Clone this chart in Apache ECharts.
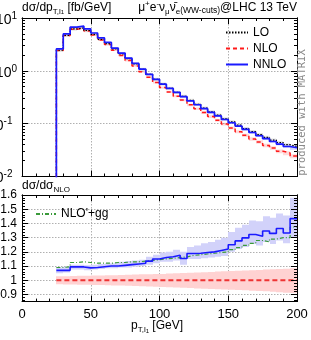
<!DOCTYPE html>
<html><head><meta charset="utf-8">
<script src="https://cdn.jsdelivr.net/npm/echarts@6/dist/echarts.min.js"></script>
<style>html,body{margin:0;padding:0;background:#fff}#c{width:311px;height:340px}</style>
</head><body><div id="c"></div>
<script>
// ---- data (bin lower edges, 5 GeV bins) ----
const binLo = [25,30,35,40,45,50,55,60,65,70,75,80,85,90,95,100,105,110,115,120,125,130,135,140,145,150,155,160,165,170,175,180,185,190,195];
const binWidth = 5;
const loVals = [2.45,4.7,6.2,6.5,5.8,4.9,3.95,3.28,2.6,2.1,1.7,1.36,1.07,0.855,0.69,0.56,0.468,0.393,0.33,0.276,0.233,0.198,0.168,0.145,0.124,0.108,0.094,0.081,0.071,0.062,0.055,0.049,0.044,0.040,0.037];
const nloVals = [2.43,4.67,6.12,6.40,5.70,4.77,3.84,3.14,2.45,1.96,1.57,1.24,0.964,0.758,0.60,0.483,0.399,0.332,0.282,0.227,0.192,0.162,0.136,0.116,0.0984,0.0832,0.0705,0.0601,0.0514,0.0450,0.0386,0.0346,0.0301,0.0278,0.0244];
const nnloVals = [2.6,5.0,6.7,7.0,6.2,5.2,4.2,3.45,2.7,2.17,1.74,1.38,1.08,0.86,0.69,0.56,0.465,0.39,0.325,0.27,0.228,0.193,0.163,0.14,0.12,0.104,0.09,0.078,0.068,0.059,0.052,0.046,0.041,0.037,0.035];
const loBandLo = [0.93,0.93,0.93,0.93,0.93,0.93,0.93,0.93,0.93,0.93,0.93,0.93,0.93,0.93,0.93,0.93,0.93,0.93,0.93,0.93,0.93,0.93,0.93,0.93,0.93,0.93,0.93,0.93,0.93,0.93,0.93,0.93,0.93,0.93,0.93];
const loBandHi = [1.07,1.07,1.07,1.07,1.07,1.07,1.07,1.07,1.07,1.07,1.07,1.07,1.07,1.07,1.07,1.07,1.07,1.07,1.07,1.07,1.07,1.07,1.07,1.07,1.07,1.07,1.07,1.07,1.07,1.07,1.07,1.07,1.07,1.07,1.07];
// ratios to NLO (lower panel)
const nnloRatio = [1.07,1.07,1.094,1.094,1.087,1.09,1.095,1.10,1.10,1.105,1.11,1.115,1.12,1.135,1.15,1.16,1.165,1.176,1.153,1.188,1.19,1.195,1.2,1.21,1.22,1.25,1.277,1.298,1.322,1.31,1.347,1.33,1.364,1.333,1.434];
const ggRatio = [1.09,1.095,1.125,1.13,1.125,1.12,1.12,1.12,1.125,1.125,1.13,1.13,1.135,1.14,1.145,1.15,1.155,1.16,1.165,1.175,1.18,1.185,1.19,1.195,1.2,1.215,1.23,1.245,1.26,1.28,1.27,1.29,1.3,1.3,1.375];
const nloBandLo = [0.972,0.971,0.970,0.969,0.968,0.967,0.966,0.965,0.964,0.963,0.961,0.960,0.958,0.957,0.955,0.953,0.951,0.949,0.947,0.945,0.943,0.941,0.939,0.937,0.935,0.933,0.931,0.929,0.927,0.924,0.922,0.919,0.916,0.913,0.910];
const nloBandHi = [1.028,1.029,1.030,1.031,1.032,1.033,1.034,1.035,1.036,1.038,1.039,1.040,1.042,1.043,1.044,1.045,1.047,1.049,1.051,1.053,1.055,1.057,1.059,1.061,1.063,1.065,1.067,1.069,1.071,1.073,1.075,1.077,1.079,1.082,1.085];
const nnloBandLo = [1.05,1.055,1.075,1.075,1.07,1.075,1.08,1.085,1.085,1.09,1.09,1.095,1.10,1.11,1.12,1.13,1.13,1.14,1.11,1.15,1.15,1.155,1.16,1.165,1.17,1.2,1.22,1.235,1.255,1.245,1.27,1.255,1.28,1.26,1.305];
const nnloBandHi = [1.09,1.095,1.11,1.11,1.105,1.11,1.115,1.12,1.12,1.13,1.135,1.14,1.145,1.165,1.18,1.195,1.2,1.215,1.2,1.235,1.245,1.26,1.27,1.285,1.3,1.34,1.37,1.39,1.42,1.415,1.45,1.44,1.47,1.455,1.58];
// tick values
const xMajor = [0,50,100,150,200];
const logMajor = [0.01,0.1,1,10];
const ratioMajor = [0.9,1,1.1,1.2,1.3,1.4,1.5,1.6];

const logMinor = [];
[0.01,0.1,1].forEach(d => { for (let k = 2; k <= 9; k++) logMinor.push(+(d*k).toPrecision(3)); });
const ratioMinor = [];
for (let i = 86; i <= 160; i += 2) if (i % 10 !== 0) ratioMinor.push(i/100);

const FONT = "'Liberation Sans', Arial, sans-serif";
const chart = echarts.init(document.getElementById('c'), null, {renderer:'canvas'});

function xAx(grid, pos, showLabel, showSplit, z) {
  return {type:'value', gridIndex:grid, position:pos, min:0, max:200, interval:50, z:z,
    axisLine:{show:true, onZero:false, lineStyle:{color:'#000', width:1}},
    axisTick:{show:true, inside:true, length:6, lineStyle:{color:'#000'}},
    minorTick:{show:true, splitNumber:5, length:3, lineStyle:{color:'#000'}},
    axisLabel:{show:showLabel, fontSize:13, fontFamily:FONT, color:'#000', margin:6},
    splitLine:{show:showSplit, lineStyle:{color:'#b0b0b0', type:[1.5,1.5]}},
    minorSplitLine:{show:false}};
}
function yAx(grid, pos, type, min, max, vals, len, showLabel, showSplit, z, fmt, pad) {
  const o = {type:type, gridIndex:grid, position:pos, min:min, max:max, z:z,
    axisLine:{show:true, onZero:false, lineStyle:{color:'#000', width:1}},
    axisTick:{show:true, inside:true, length:len, customValues:vals, lineStyle:{color:'#000'}},
    axisLabel:{show:showLabel, customValues:vals, fontSize:12, fontFamily:FONT, color:'#000', margin:5, formatter:fmt, padding:pad||0,
      rich:{b:{fontSize:14, fontFamily:FONT, color:'#000', lineHeight:18},
            e:{fontSize:10, fontFamily:FONT, color:'#000', verticalAlign:'top', lineHeight:10},
            sp:{width:4.5, lineHeight:8}}},
    splitLine:{show:showSplit, lineStyle:{color:'#b0b0b0', type:[1.5,1.5]}},
    minorTick:{show:false}, minorSplitLine:{show:false}};
  if (type === 'log') o.logBase = 10;
  return o;
}
const logFmt = v => { const e = Math.round(Math.log10(v)); return '{b|10}{e|' + e + '}' + (e < 0 ? '{sp| }' : ''); };
const ratFmt = v => String(+(+v).toFixed(1));

const xAxis = [
  xAx(0,'bottom',false,true,0),
  xAx(0,'top',false,false,10),
  xAx(1,'bottom',true,true,0),
  xAx(1,'top',false,false,10)
];
const yAxis = [
  yAx(0,'left','log',0.01,10,logMajor,6,true,true,0,logFmt,[4,0,0,0]),
  yAx(0,'left','log',0.01,10,logMinor,3,false,false,10),
  yAx(0,'right','log',0.01,10,logMajor,6,false,false,10),
  yAx(0,'right','log',0.01,10,logMinor,3,false,false,10),
  yAx(1,'left','value',0.85,1.6,ratioMajor,6,true,true,0,ratFmt),
  yAx(1,'left','value',0.85,1.6,ratioMinor,3,false,false,10),
  yAx(1,'right','value',0.85,1.6,ratioMajor,6,false,false,10),
  yAx(1,'right','value',0.85,1.6,ratioMinor,3,false,false,10)
];

function band(name, xi, yi, lo, hi, color, z) {
  return {name:name, type:'custom', xAxisIndex:xi, yAxisIndex:yi, z:z, silent:true, clip:true,
    data: binLo.map((x,i) => [x, lo[i], hi[i]]),
    encode:{x:0, y:[1,2]},
    renderItem:(params, api) => {
      const x0 = api.value(0);
      const a = api.coord([x0, api.value(2)]);
      const b = api.coord([x0 + binWidth, api.value(1)]);
      const X0 = Math.round(a[0]), X1 = Math.round(b[0]);
      return {type:'rect', shape:{x:X0, y:a[1], width:X1-X0, height:b[1]-a[1]}, style:{fill:color}};
    }};
}
function step(name, xi, yi, vals, color, width, dash, drop, z) {
  const d = [];
  if (drop) d.push([binLo[0], 1e-4]);
  vals.forEach((v,i) => d.push([binLo[i], v]));
  d.push([binLo[binLo.length-1] + binWidth, vals[vals.length-1]]);
  return {name:name, type:'line', step:'end', xAxisIndex:xi, yAxisIndex:yi, data:d, symbol:'none', showSymbol:false,
    lineStyle:{color:color, width:width, type:dash}, itemStyle:{color:color}, z:z, silent:true, clip:true};
}
const mul = (a,b) => a.map((v,i) => v*b[i]);
const nloRatio = nloVals.map((v,i) => v / nloVals[i]);

const series = [
  band('LOband',0,0,mul(loVals,loBandLo),mul(loVals,loBandHi),'rgba(0,0,0,0.10)',1),
  band('NLOband',0,0,mul(nloVals,nloBandLo),mul(nloVals,nloBandHi),'rgba(255,0,0,0.15)',1),
  band('NNLOband',0,0,mul(nloVals,nnloBandLo),mul(nloVals,nnloBandHi),'rgba(60,60,255,0.2)',1),
  step('LO',0,0,loVals,'#000',1.2,[1.5,1.5],true,4),
  step('NLO',0,0,nloVals,'#ff1a1a',1.5,[4,3],true,3),
  step('NNLO',0,0,nnloVals,'#1a1aff',1.7,'solid',true,5),
  band('NLOrband',2,4,nloBandLo,nloBandHi,'#ffd2d2',1),
  band('NNLOrband',2,4,nnloBandLo,nnloBandHi,'#d2d2fa',1),
  step('NLO/NLO',2,4,nloRatio,'#ee3333',2,[5,3],false,3),
  step("NLO'+gg",2,4,ggRatio,'#3a9a3a',1.2,[4,2,1,2],false,4),
  step('NNLO/NLO',2,4,nnloRatio,'#1a1aff',1.6,'solid',false,5)
];

const subRich = {
  s:{fontSize:8, fontFamily:FONT, fill:'#000', verticalAlign:'bottom', lineHeight:8},
  ss:{fontSize:6, fontFamily:FONT, fill:'#000', verticalAlign:'bottom', lineHeight:3},
  p:{fontSize:8, fontFamily:FONT, fill:'#000', verticalAlign:'top', lineHeight:8},
  w:{fontSize:8.5, fontFamily:FONT, fill:'#000', verticalAlign:'bottom', lineHeight:10}
};
function txt(x, y, text, align, extra) {
  return Object.assign({type:'text', x:x, y:y, silent:true, z:100,
    style:{text:text, fontSize:12, fontFamily:FONT, fill:'#000', lineHeight:16, align:align, verticalAlign:'middle', rich:subRich}}, extra||{});
}
const legendCommon = {orient:'vertical', padding:0, itemHeight:14, itemGap:2, selectedMode:false,
  itemStyle:{opacity:0}, textStyle:{fontSize:12, fontFamily:FONT, color:'#000', lineHeight:14}};

const option = {
  animation:false,
  backgroundColor:'#fff',
  grid:[{left:22, top:18, width:275, height:158.5, show:false, containLabel:false, outerBoundsMode:'none'},
        {left:22, top:195, width:275, height:106.6, show:false, containLabel:false, outerBoundsMode:'none'}],
  xAxis: xAxis,
  yAxis: yAxis,
  legend:[
    Object.assign({data:['LO','NLO','NNLO'], left:225, top:25.5, itemWidth:22}, legendCommon),
    Object.assign({data:["NLO'+gg"], left:35, top:207, itemWidth:20}, legendCommon)
  ],
  graphic:[
    txt(22, 7.5, 'dσ/dp{s|T,l}{ss|1} [fb/GeV]', 'left'),
    txt(297, 7.5, 'μ{p|+}e{p|-}ν{s|μ}ν̄{s|e}{w|(WW-cuts)}@LHC 13 TeV', 'right'),
    txt(22, 185.5, 'dσ/dσ{s|NLO}', 'left'),
    txt(131, 326, 'p{s|T,l}{ss|1} [GeV]', 'left'),
    {type:'text', x:302.5, y:112.5, rotation:Math.PI/2, silent:true, z:100,
      style:{text:'produced with MATRIX', fontSize:10.5, fontFamily:"'DejaVu Sans Mono', 'Liberation Mono', monospace", fill:'#8a8a8a', align:'center', verticalAlign:'middle'}}
  ],
  series: series
};
chart.setOption(option);
</script></body></html>
